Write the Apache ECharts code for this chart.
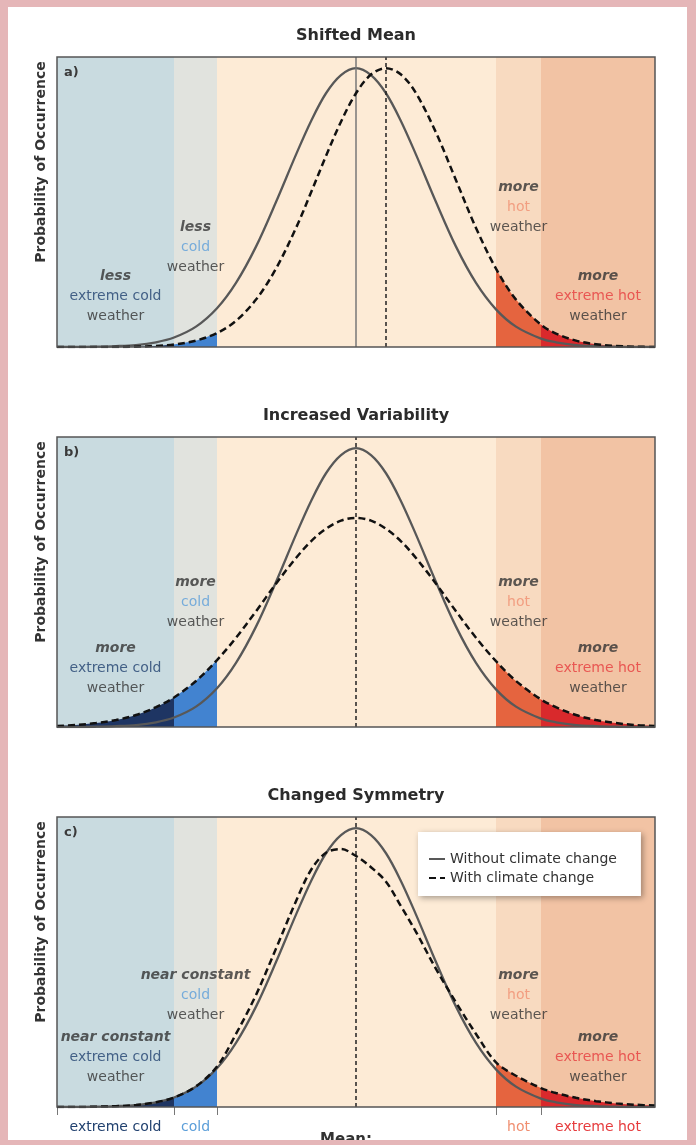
<!DOCTYPE html>
<html>
<head>
<meta charset="utf-8">
<script src="https://cdn.jsdelivr.net/npm/echarts@6.0.0/dist/echarts.min.js"></script>
<style>
html,body{margin:0;padding:0;background:#fff;}
#chart{width:696px;height:1145px;}
</style>
</head>
<body>
<div id="chart"></div>
<script>
// ---- data ----
// x: temperature (arbitrary units, mean = 0); y: probability (peak of unchanged curve = 1)
const X = [-299,-280,-260,-240,-220,-200,-182,-160,-139,-120,-100,-80,-60,-45,-30,-15,0,15,30,45,60,80,100,120,140,160,185,200,220,240,260,280,299];
const withoutChange = [0.000,0.000,0.001,0.003,0.007,0.017,0.034,0.073,0.139,0.230,0.360,0.520,0.690,0.810,0.910,0.975,1.000,0.975,0.910,0.810,0.690,0.520,0.360,0.230,0.135,0.073,0.030,0.017,0.007,0.003,0.001,0.000,0.000];
const withShiftedMean = [0.000,0.000,0.000,0.000,0.001,0.004,0.009,0.023,0.050,0.094,0.170,0.281,0.427,0.554,0.685,0.808,0.910,0.977,1.000,0.977,0.910,0.769,0.598,0.427,0.281,0.170,0.080,0.048,0.023,0.010,0.004,0.001,0.000];
const withMoreVariability = [0.004,0.007,0.014,0.025,0.043,0.071,0.106,0.165,0.240,0.320,0.415,0.514,0.606,0.666,0.711,0.740,0.750,0.740,0.711,0.666,0.606,0.514,0.415,0.320,0.236,0.165,0.099,0.071,0.043,0.025,0.014,0.007,0.004];
const withChangedSymmetry = [0.000,0.000,0.001,0.003,0.007,0.017,0.034,0.074,0.145,0.262,0.402,0.568,0.738,0.850,0.912,0.925,0.900,0.860,0.808,0.720,0.628,0.495,0.375,0.262,0.160,0.112,0.068,0.050,0.033,0.021,0.013,0.008,0.005];

const bandEdges = [-299, -182, -139, 140, 185, 299];
const bandNames = ['extreme cold', 'cold', 'normal', 'hot', 'extreme hot'];
const meanWithChange = [30, 0, 0];

const panelTitles = ['Shifted Mean', 'Increased Variability', 'Changed Symmetry'];
const panelLetters = ['a)', 'b)', 'c)'];
const yTitle = 'Probability of Occurrence';
const legendNames = ['Without climate change', 'With climate change'];
const qualifiers = [
  ['less', 'less', 'more', 'more'],
  ['more', 'more', 'more', 'more'],
  ['near constant', 'near constant', 'more', 'more']
];
const tailBands = ['extreme cold', 'cold', 'hot', 'extreme hot'];
const bottomLabel = 'Mean:';

// ---- layout / style ----
const FONT = '"DejaVu Sans", sans-serif';
const SMOOTH = 0.34;
const gridTops = [57, 437, 817];
const annotY = [
  [0.183, 0.359, 0.502, 0.183],
  [0.212, 0.448, 0.448, 0.212],
  [0.179, 0.402, 0.402, 0.179]
];
const bandColors = ['#c9dbe0', '#e1e3de', '#fdebd6', '#f8dac0', '#f2c3a4'];
const fillColors = {'extreme cold': '#1e3563', 'cold': '#4283d0', 'hot': '#e5643f', 'extreme hot': '#d9292c'};
const rich = {
  q: {fontStyle: 'italic', fontWeight: 'bold', color: '#333', fontSize: 14, lineHeight: 20, fontFamily: FONT},
  ec: {color: '#21416f', fontSize: 14, lineHeight: 20, fontFamily: FONT},
  c: {color: '#5b9ed9', fontSize: 14, lineHeight: 20, fontFamily: FONT},
  h: {color: '#f08e70', fontSize: 14, lineHeight: 20, fontFamily: FONT},
  eh: {color: '#e63b3d', fontSize: 14, lineHeight: 20, fontFamily: FONT},
  w: {color: '#333', fontSize: 14, lineHeight: 20, fontFamily: FONT}
};
const bandKey = {'extreme cold': 'ec', 'cold': 'c', 'hot': 'h', 'extreme hot': 'eh'};

const curves = [withShiftedMean, withMoreVariability, withChangedSymmetry];
const bandCenter = name => {
  const k = bandNames.indexOf(name);
  return (bandEdges[k] + bandEdges[k + 1]) / 2;
};
const pts = arr => X.map((x, j) => [x, arr[j]]);
const tailRange = name => {
  const k = bandNames.indexOf(name);
  return [bandEdges[k], bandEdges[k + 1]];
};

const grids = [], xAxes = [], yAxes = [], series = [];
const bottomCenters = tailBands.map(bandCenter);

gridTops.forEach((top, i) => {
  grids.push({left: 57, top: top, width: 598, height: 290, show: true, z: 10,
    backgroundColor: 'transparent', borderColor: '#555', borderWidth: 1.5,
    containLabel: false, outerBoundsMode: 'none'});
  const last = i === 2;
  xAxes.push({type: 'value', gridIndex: i, min: bandEdges[0], max: bandEdges[5],
    axisLine: {show: false}, splitLine: {show: false},
    axisTick: {show: last, customValues: [-299, -182, -139, 140, 185], length: 8, lineStyle: {color: '#777', width: 1}},
    axisLabel: {show: last, customValues: bottomCenters, margin: 10,
      formatter: v => {
        let best = 0;
        bottomCenters.forEach((c, k) => { if (Math.abs(c - v) < Math.abs(bottomCenters[best] - v)) best = k; });
        const n = tailBands[best];
        return '{' + bandKey[n] + '|' + n + '}';
      }, rich: rich}
  });
  yAxes.push({type: 'value', gridIndex: i, min: 0, max: 1.04, show: false});

  // climate category bands
  series.push({type: 'line', xAxisIndex: i, yAxisIndex: i, data: [[0, 0]], symbol: 'none',
    lineStyle: {opacity: 0}, silent: true, z: 1,
    markArea: {silent: true, label: {show: false},
      data: bandNames.map((n, k) => [{xAxis: bandEdges[k], itemStyle: {color: bandColors[k]}}, {xAxis: bandEdges[k + 1]}])}
  });
  // shaded tails under the "with climate change" curve
  tailBands.forEach(n => {
    const [a, b] = tailRange(n);
    series.push({type: 'line', name: 'tail', xAxisIndex: i, yAxisIndex: i, smooth: SMOOTH, symbol: 'none', silent: true, z: 3,
      data: pts(curves[i]).filter(p => p[0] >= a && p[0] <= b),
      lineStyle: {width: 0}, areaStyle: {color: fillColors[n], opacity: 1}});
  });
  // without climate change
  series.push({type: 'line', name: legendNames[0], xAxisIndex: i, yAxisIndex: i, smooth: SMOOTH, symbol: 'none', silent: true, z: 4,
    data: pts(withoutChange), lineStyle: {color: '#585858', width: 2.3}, itemStyle: {color: '#585858'},
    markLine: i === 0 ? {symbol: ['none', 'none'], silent: true, label: {show: false},
      lineStyle: {color: '#777', width: 1.5, type: 'solid'}, data: [{xAxis: 0}]} : undefined
  });
  // with climate change
  series.push({type: 'line', name: legendNames[1], xAxisIndex: i, yAxisIndex: i, smooth: SMOOTH, symbol: 'none', silent: true, z: 5,
    data: pts(curves[i]), lineStyle: {color: '#111', width: 2.5, type: [7, 4]}, itemStyle: {color: '#111'},
    markLine: {symbol: ['none', 'none'], silent: true, label: {show: false},
      lineStyle: {color: '#222', width: 1.5, type: [4, 3]}, data: [{xAxis: meanWithChange[i]}]}
  });
  // annotations
  series.push({type: 'scatter', name: 'notes', xAxisIndex: i, yAxisIndex: i, silent: true, z: 6,
    symbolSize: 1, itemStyle: {color: 'transparent'},
    data: tailBands.map((n, k) => [bandCenter(n), annotY[i][k]]),
    label: {show: true, position: 'inside', rich: rich,
      formatter: p => {
        const n = tailBands[p.dataIndex];
        return '{q|' + qualifiers[i][p.dataIndex] + '}\n{' + bandKey[n] + '|' + n + '}\n{w|weather}';
      }}
  });
});

const graphics = [];
panelTitles.forEach((t, i) => {
  graphics.push({type: 'text', x: 356, y: 36 + 380 * i, z: 50,
    style: {text: t, fontFamily: FONT, fontWeight: 'bold', fontSize: 16, fill: '#2b2b2b', align: 'center', verticalAlign: 'middle'}});
  graphics.push({type: 'text', x: 64, y: 73 + 380 * i, z: 50,
    style: {text: panelLetters[i], fontFamily: FONT, fontWeight: 'bold', fontSize: 13, fill: '#3a3a3a', align: 'left', verticalAlign: 'middle'}});
  graphics.push({type: 'text', x: 41, y: 162 + 380 * i, rotation: Math.PI / 2, z: 50,
    style: {text: yTitle, fontFamily: FONT, fontWeight: 'bold', fontSize: 14, fill: '#333', align: 'center', verticalAlign: 'middle'}});
});
graphics.push({type: 'text', x: 346, y: 1140, z: 50,
  style: {text: bottomLabel, fontFamily: FONT, fontWeight: 'bold', fontSize: 15, fill: '#333', align: 'center', verticalAlign: 'middle'}});
// pink frame of the page
const pink = '#e5b6b8';
[[0, 0, 696, 7], [0, 1140, 696, 5], [0, 0, 8, 1145], [687, 0, 9, 1145]].forEach(r => {
  graphics.push({type: 'rect', z: 100, shape: {x: r[0], y: r[1], width: r[2], height: r[3]}, style: {fill: pink}});
});

const chart = echarts.init(document.getElementById('chart'), null, {renderer: 'canvas'});
chart.setOption({
  animation: false,
  backgroundColor: '#fff',
  textStyle: {fontFamily: FONT},
  grid: grids,
  xAxis: xAxes,
  yAxis: yAxes,
  legend: {show: true, orient: 'vertical', left: 418, top: 832, z: 20, selectedMode: false,
    data: legendNames, itemWidth: 16, itemHeight: 10, itemGap: 5,
    itemStyle: {opacity: 0},
    padding: [20, 24, 11, 10], backgroundColor: '#fff',
    shadowBlur: 6, shadowColor: 'rgba(0,0,0,0.35)', shadowOffsetX: 2, shadowOffsetY: 2,
    textStyle: {fontSize: 14, color: '#333', fontFamily: FONT}},
  graphic: {elements: graphics},
  series: series
});
</script>
</body>
</html>
